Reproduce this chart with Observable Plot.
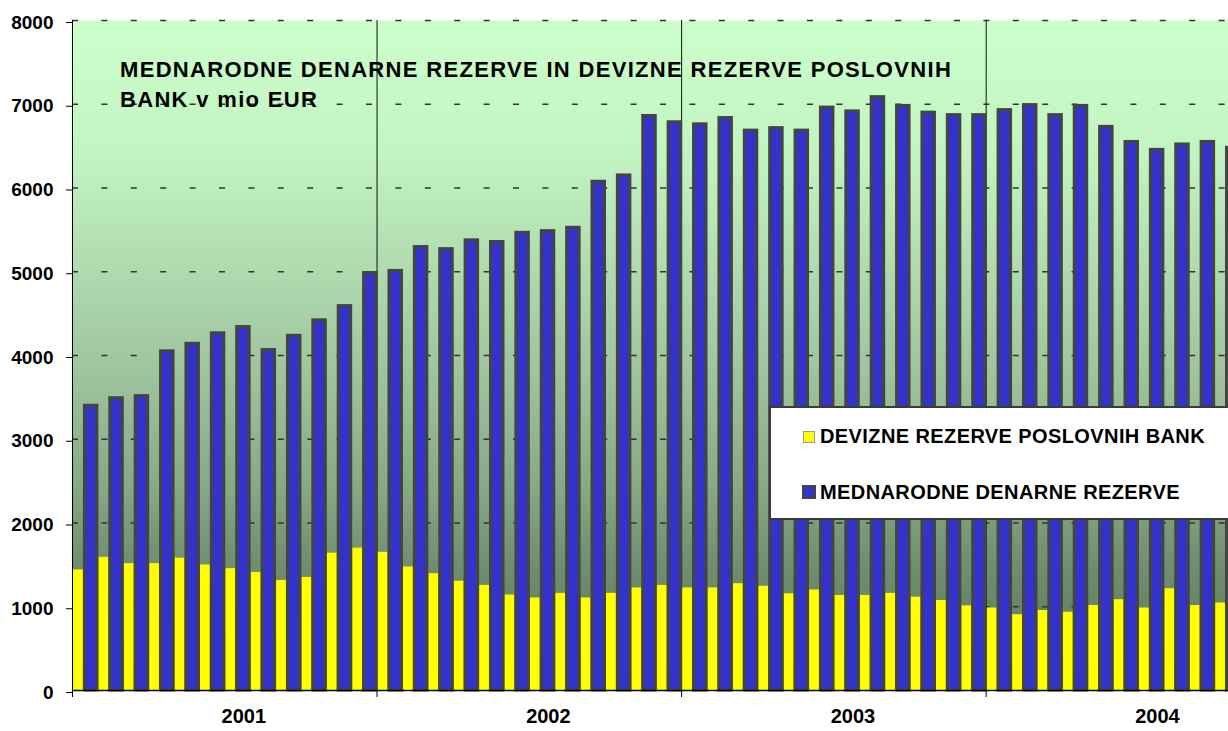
<!DOCTYPE html>
<html>
<head>
<meta charset="utf-8">
<script src="https://cdn.jsdelivr.net/npm/d3@7"></script>
<script src="https://cdn.jsdelivr.net/npm/@observablehq/plot@0.6"></script>
<style>
  html, body { margin: 0; padding: 0; background: #fff; overflow: hidden; }
  #wrap { position: relative; width: 1228px; height: 731px; overflow: hidden;
          font-family: "Liberation Sans", Arial, sans-serif; }
  #title { position: absolute; left: 120px; top: 55px; font-weight: bold; font-size: 22px;
           letter-spacing: 1.32px; line-height: 30px; color: #000; white-space: nowrap; }
  #legend { position: absolute; left: 769px; top: 406px; width: 480px; height: 114px;
            box-sizing: border-box; background: #fff; border: 2px solid #3a3a3a; }
  .sw { position: absolute; box-sizing: border-box; }
  .lt { position: absolute; font-weight: bold; font-size: 20px; line-height: 20px;
        color: #000; white-space: nowrap; letter-spacing: 0.4px; }
</style>
</head>
<body>
<div id="wrap">
  <div id="chart"></div>
  <div id="title"></div>
  <div id="legend"></div>
</div>
<script>
// ---- data (values in mio EUR, monthly from January 2001) ----
const years = ["2001", "2002", "2003", "2004"];
const seriesNames = ["DEVIZNE REZERVE POSLOVNIH BANK", "MEDNARODNE DENARNE REZERVE"];
const titleLines = ["MEDNARODNE DENARNE REZERVE IN DEVIZNE REZERVE POSLOVNIH", "BANK v mio EUR"];
const yTicks = [0, 1000, 2000, 3000, 4000, 5000, 6000, 7000, 8000];

// DEVIZNE REZERVE POSLOVNIH BANK (yellow)
const devizneRezerve = [
  1440, 1590, 1515, 1515, 1580, 1500, 1455, 1410, 1315, 1350, 1640, 1700,
  1650, 1475, 1395, 1305, 1255, 1140, 1105, 1160, 1105, 1160, 1225, 1255,
  1225, 1225, 1275, 1245, 1155, 1200, 1135, 1135, 1160, 1115, 1075, 1010,
  985, 905, 955, 935, 1015, 1085, 985, 1215, 1015, 1045
];
// MEDNARODNE DENARNE REZERVE (blue)
const mednarodneRezerve = [
  3400, 3490, 3515, 4050, 4140, 4265, 4340, 4065, 4235, 4420, 4590, 4985,
  5010, 5295, 5270, 5375, 5355, 5465, 5485, 5525, 6075, 6150, 6860, 6785,
  6760, 6835, 6685, 6715, 6685, 6960, 6915, 7085, 6980, 6900, 6870, 6870,
  6930, 6990, 6870, 6980, 6730, 6550, 6455, 6520, 6550, 6480
];

// ---- layout ----
const W = 1228, H = 731;
const mLeft = 72, mTop = 20, mBottom = 41;
const monthPx = 25.38;
const nMonths = years.length * 12;

const rows = mednarodneRezerve.map((v, i) => ({i, blue: v, yellow: devizneRezerve[i]}));
const yearBounds = years.slice(1).map((_, k) => (k + 1) * 12);
const yearTicks = years.map((_, k) => k * 12).concat([nMonths]);

const colors = {yellow: "#FFFF00", blue: "#3333CC", outline: "#444444"};

const gradientDefs = () => {
  const defs = d3.create("svg:defs");
  const g = defs.append("linearGradient").attr("id", "bgGrad")
    .attr("x1", 0).attr("y1", 0).attr("x2", 0).attr("y2", 1);
  [["0%", "#CCFFCC"], ["20%", "#C2F4C2"], ["54%", "#9CC29C"], ["70%", "#85A885"],
   ["81%", "#708E70"], ["100%", "#587458"]].forEach(([o, c]) =>
    g.append("stop").attr("offset", o).attr("stop-color", c));
  return defs.node();
};

const chart = Plot.plot({
  width: W, height: H,
  marginLeft: mLeft, marginRight: 0, marginTop: mTop, marginBottom: mBottom,
  x: {type: "linear", domain: [0, nMonths], range: [mLeft, mLeft + nMonths * monthPx]},
  y: {domain: [0, 8000]},
  style: {fontFamily: "'Liberation Sans', Arial, sans-serif", fontWeight: "bold",
          overflow: "hidden", background: "transparent", color: "#000"},
  marks: [
    gradientDefs,
    Plot.frame({fill: "url(#bgGrad)", stroke: "none"}),
    Plot.ruleY(yTicks.slice(1), {stroke: "#333", strokeWidth: 1.5, strokeDasharray: "6,23.4"}),
    Plot.ruleX(yearBounds, {stroke: "#111", strokeWidth: 1}),
    Plot.rect(rows, {x1: d => d.i + 0.04, x2: d => d.i + 0.43, y1: 0, y2: "yellow",
                     fill: colors.yellow}),
    Plot.rect(rows, {x1: d => d.i + 0.43, x2: d => d.i + 1.04, y1: 0, y2: "blue",
                     fill: colors.blue, stroke: colors.outline, strokeWidth: 3,
                     insetLeft: 1.5, insetRight: 1.5}),
    Plot.ruleX([0], {stroke: "#000", strokeWidth: 1}),
    Plot.ruleY([0], {stroke: "#000", strokeWidth: 1.5}),
    Plot.axisY({ticks: yTicks, tickSize: 6, tickPadding: 13, fontSize: 19, dy: 2,
                tickFormat: d3.format("d"), label: null}),
    Plot.axisX({ticks: yearTicks, tickSize: 7, tickFormat: () => "", label: null}),
    Plot.text(years, {x: (d, k) => k * 12 + 6.75, frameAnchor: "bottom", dy: 32,
                      fontSize: 20, fill: "#000", text: d => d})
  ]
});
document.getElementById("chart").appendChild(chart);

// title (drawn inside plot area)
document.getElementById("title").innerHTML = titleLines.join("<br>");

// legend (inside plot area, white box)
const legend = document.getElementById("legend");
const items = [
  {name: seriesNames[0], fill: colors.yellow, border: "1px solid #999", top: 22.5, size: 12, left: 32, ttop: 17.5},
  {name: seriesNames[1], fill: colors.blue, border: "2px solid " + colors.outline, top: 77, size: 13.5, left: 31, ttop: 73.5}
];
items.forEach(it => {
  const sw = document.createElement("div");
  sw.className = "sw";
  Object.assign(sw.style, {left: it.left + "px", top: it.top + "px", width: it.size + "px",
    height: it.size + "px", background: it.fill, border: it.border});
  legend.appendChild(sw);
  const t = document.createElement("div");
  t.className = "lt";
  t.style.left = "49px";
  t.style.top = it.ttop + "px";
  t.textContent = it.name;
  legend.appendChild(t);
});
</script>
</body>
</html>
